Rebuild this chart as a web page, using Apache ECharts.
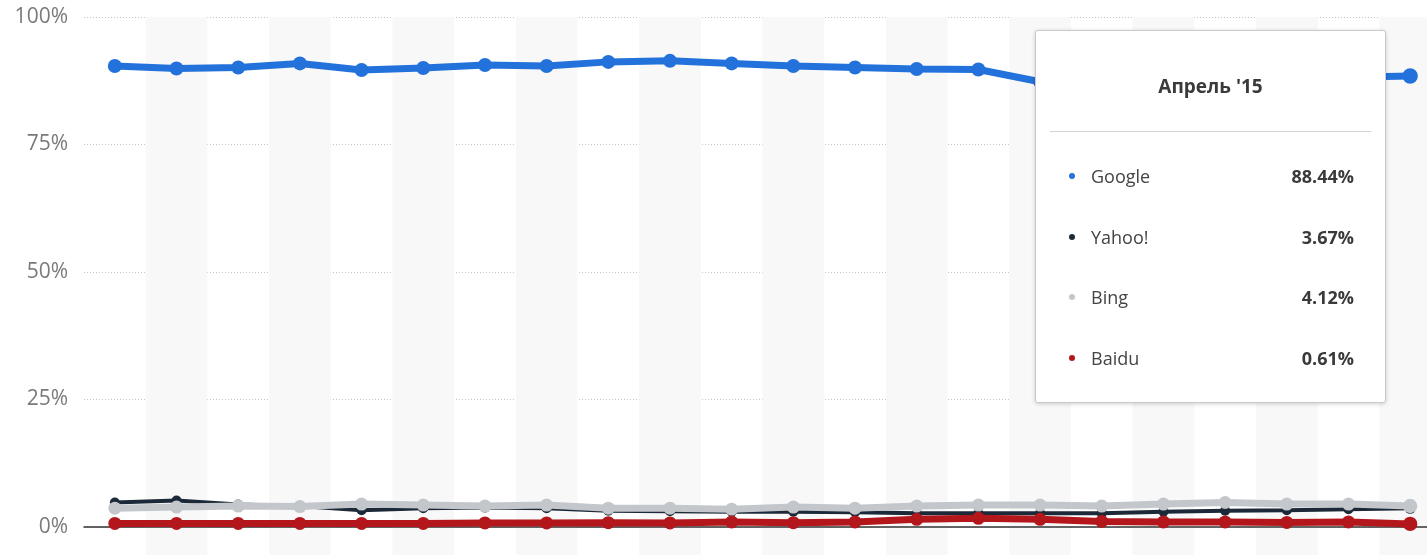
<!DOCTYPE html>
<html>
<head>
<meta charset="utf-8">
<script src="https://cdn.jsdelivr.net/npm/echarts@6/dist/echarts.min.js"></script>
<style>
html,body{margin:0;padding:0;background:#fff;overflow:hidden;}
#chart{width:1427px;height:555px;}
</style>
</head>
<body>
<div id="chart"></div>
<script>
const categories = ["Июль '13","Август '13","Сентябрь '13","Октябрь '13","Ноябрь '13","Декабрь '13","Январь '14","Февраль '14","Март '14","Апрель '14","Май '14","Июнь '14","Июль '14","Август '14","Сентябрь '14","Октябрь '14","Ноябрь '14","Декабрь '14","Январь '15","Февраль '15","Март '15","Апрель '15"];
const seriesNames = ["Google","Yahoo!","Bing","Baidu"];
const google = [90.4,89.9,90.1,90.9,89.6,90.0,90.6,90.4,91.2,91.4,90.9,90.4,90.1,89.8,89.7,87.3,87.6,87.9,88.1,88.0,88.2,88.44];
const yahoo  = [4.8,5.2,4.4,4.1,3.3,3.7,3.8,3.7,3.2,3.1,3.0,3.0,2.9,2.7,2.7,2.7,2.7,3.0,3.2,3.3,3.5,3.67];
const bing   = [3.7,3.9,4.1,4.0,4.5,4.3,4.1,4.3,3.7,3.7,3.5,3.9,3.7,4.1,4.3,4.3,4.1,4.5,4.8,4.5,4.5,4.12];
const baidu  = [0.7,0.7,0.7,0.7,0.7,0.7,0.8,0.8,0.85,0.8,1.0,0.85,1.0,1.5,1.7,1.5,1.1,1.0,1.0,0.9,1.0,0.61];
const yTicks = [0,25,50,75,100];

const colors = ["#2371da","#1c2938","#c3c7cb","#b3161b"];
const font = "'Open Sans', 'DejaVu Sans', sans-serif";

const chart = echarts.init(document.getElementById('chart'), null, {renderer:'canvas'});

function mkLine(name, data, color, width, size, z){
  return {
    name, type:'line', data, xAxisIndex:1, yAxisIndex:1,
    symbol:'circle', symbolSize:size, showSymbol:true,
    lineStyle:{color, width}, itemStyle:{color},
    emphasis:{disabled:true}, z
  };
}

const option = {
  animation:false,
  textStyle:{fontFamily:font},
  grid:[
    {left:84, right:-14, top:17, bottom:0, outerBoundsMode:'none', containLabel:false},
    {left:84, right:-14, top:17, bottom:28, outerBoundsMode:'none', containLabel:false}
  ],
  xAxis:[
    {type:'category', gridIndex:0, data:categories, boundaryGap:true,
     axisLine:{show:false}, axisTick:{show:false, interval:0}, axisLabel:{show:false, interval:0},
     splitArea:{show:true, interval:0, areaStyle:{color:['rgba(255,255,255,0)','#f8f8f8']}}},
    {type:'category', gridIndex:1, data:categories, boundaryGap:true,
     axisLine:{show:true, onZero:true, lineStyle:{color:'#333', width:1.5}},
     axisTick:{show:false}, axisLabel:{show:false}, splitArea:{show:false}}
  ],
  yAxis:[
    {type:'value', gridIndex:0, show:false, min:0, max:100},
    {type:'value', gridIndex:1, min:0, max:100, interval:25,
     axisLine:{show:false}, axisTick:{show:false},
     axisLabel:{margin:16, color:'#7a7a7a', fontSize:21, fontFamily:font,
       formatter:v => yTicks.includes(v) ? v + '%' : ''},
     splitLine:{show:true, lineStyle:{type:[1,2], color:'#c4c4c4', width:1}}}
  ],
  tooltip:{
    trigger:'axis', triggerOn:'none', alwaysShowContent:true,
    axisPointer:{type:'none'},
    transitionDuration:0, padding:0, confine:false,
    backgroundColor:'#fff', borderColor:'#c9c9c9', borderWidth:1,
    extraCssText:'box-shadow:0 1px 4px rgba(0,0,0,0.18);border-radius:3px;',
    position:function(){ return [1035,30]; },
    formatter:function(params){
      const title = categories[params[0].dataIndex];
      let html = '<div style="width:349px;height:371px;box-sizing:border-box;padding:0 14px;font-family:' + font.replace(/'/g,'&quot;') + ';">';
      html += '<div style="height:100px;line-height:110px;text-align:center;font-weight:bold;font-size:19px;color:#3a3a3a;border-bottom:1px solid #d5d5d5;">' + title + '</div>';
      html += '<div style="padding-top:14px;">';
      params.forEach(p => {
        html += '<div style="height:60.5px;line-height:60px;display:flex;align-items:center;font-size:18px;color:#444;">' +
          '<span style="display:inline-block;width:6px;height:6px;border-radius:3px;background:' + colors[p.seriesIndex] + ';margin-left:19px;margin-right:16px;"></span>' +
          '<span style="flex:1;">' + p.seriesName + '</span>' +
          '<span style="font-weight:bold;color:#3a3a3a;margin-right:17px;">' + Number(p.value).toFixed(2) + '%</span></div>';
      });
      html += '</div></div>';
      return html;
    }
  },
  series:[
    mkLine(seriesNames[0], google, colors[0], 7, 14, 5),
    mkLine(seriesNames[1], yahoo, colors[1], 4, 10, 3),
    mkLine(seriesNames[2], bing, colors[2], 7, 13, 4),
    mkLine(seriesNames[3], baidu, colors[3], 7, 13, 6)
  ]
};
chart.setOption(option);
chart.dispatchAction({type:'showTip', seriesIndex:0, dataIndex:categories.length-1});
</script>
</body>
</html>
